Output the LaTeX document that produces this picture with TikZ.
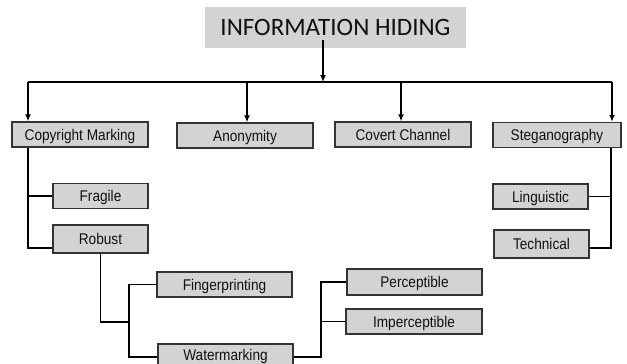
\documentclass[tikz,border=0pt]{standalone}
\usepackage{fontspec}
\setmainfont{Liberation Sans}
\newfontfamily\titlefont{Carlito}
\newfontfamily\boxfont[FakeStretch=0.88]{Liberation Sans}
\usetikzlibrary{arrows.meta}
\definecolor{boxgray}{HTML}{D3D3D3}
\definecolor{edgegray}{HTML}{333333}
\definecolor{txt}{HTML}{101010}
\begin{document}
\begin{tikzpicture}[x=1pt,y=-1pt,
  box/.style={draw=edgegray,fill=boxgray,line width=1.3pt,inner sep=0pt,
    text=txt,font=\boxfont\fontsize{15.5}{16}\selectfont,
    text height=11pt,text depth=0pt},
  conn/.style={line width=1.7pt,black},
  arr/.style={conn,-{Latex[length=7pt,width=6pt]}}]
\useasboundingbox (0,0) rectangle (627,364);
% title
\node[fill=boxgray,minimum width=261pt,minimum height=41pt,inner sep=0pt,text=txt,
  font=\titlefont\fontsize{25}{26}\selectfont] (title) at (335.5,27.5) {INFORMATION HIDING};
% level 1
\node[box,minimum width=136pt,minimum height=25pt] (cm) at (80,134.5) {Copyright Marking};
\node[box,minimum width=136pt,minimum height=25pt] (an) at (245,135.5) {Anonymity};
\node[box,minimum width=136pt,minimum height=25pt] (cc) at (403,134.5) {Covert Channel};
\node[box,minimum width=128pt,minimum height=25pt] (st) at (557,135) {Steganography};
% left branch
\node[box,minimum width=95pt,minimum height=25pt] (fr) at (100.5,196) {Fragile};
\node[box,minimum width=95pt,minimum height=28pt] (rb) at (100.5,239) {Robust};
\node[box,minimum width=135pt,minimum height=25pt] (fp) at (224.5,284.5) {Fingerprinting};
\node[box,minimum width=135pt,minimum height=22pt] (wm) at (225.5,355) {Watermarking};
\node[box,minimum width=135pt,minimum height=26pt] (pe) at (414.5,282) {Perceptible};
\node[box,minimum width=136pt,minimum height=25pt] (im) at (414,321.5) {Imperceptible};
% right branch
\node[box,minimum width=95pt,minimum height=25pt] (li) at (540.5,196.5) {Linguistic};
\node[box,minimum width=95pt,minimum height=28pt] (te) at (541.5,244) {Technical};
% coordinates
\coordinate (ta) at (323,40);
\coordinate (bc) at (323,82);
\coordinate (d1) at (28,82);
\coordinate (d2) at (247,82);
\coordinate (d3) at (401,82);
\coordinate (d4) at (612,82);
\coordinate (jl) at (28,248);
\coordinate (jf) at (129,322);
\coordinate (jw) at (129,357);
\coordinate (jp) at (321,322);
\coordinate (jr) at (611,248);
% top connectors
\draw[arr] (ta) -- (bc);
\draw[conn] (d1) -- (d4);
\draw[arr] (d1) -- (d1 |- cm.north);
\draw[arr] (d2) -- (d2 |- an.north);
\draw[arr] (d3) -- (d3 |- cc.north);
\draw[arr] (d4) -- (d4 |- st.north);
% copyright marking subtree
\draw[conn] (cm.south -| jl) -- (jl) -- (rb.west |- jl);
\draw[conn] (fr.west -| jl) -- (fr.west);
\draw[conn] (rb.south) -- (rb.south |- jf) -- (jf);
\draw[conn] (fp.west) -- (fp.west -| jf) -- (jw) -- (wm.west |- jw);
\draw[conn] (wm.east |- jw) -- (jw -| jp) -- (pe.west -| jp) -- (pe.west);
\draw[conn] (im.west -| jp) -- (im.west);
% steganography subtree
\draw[conn] (st.south -| jr) -- (jr) -- (te.east |- jr);
\draw[conn] (li.east -| jr) -- (li.east);
\end{tikzpicture}
\end{document}
